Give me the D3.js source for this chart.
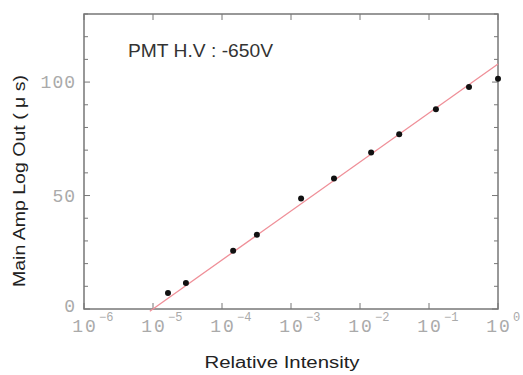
<!doctype html>
<html>
  <head>
    <meta charset="utf-8">
    <title>PMT log amp</title>
    <script src="https://d3js.org/d3.v7.min.js"></script>
    <style type="text/css">
      body { margin: 0; background-color: #ffffff }
      text { font-family: "Liberation Sans", Arial, sans-serif }
    </style>
  </head>
  <body>
    <script>
      // measured data
      var intensity = [1.65e-5, 3.0e-5, 1.45e-4, 3.2e-4, 1.4e-3, 4.2e-3, 1.45e-2, 3.7e-2, 0.126, 0.38, 1.0];
      var logOut = [7.1, 11.5, 25.7, 32.7, 48.7, 57.5, 69, 77, 88, 97.8, 101.5];

      // fitted line: logOut = fitIntercept + fitSlope * log10(intensity)
      var fitSlope = 21.6;
      var fitIntercept = 108;

      var xTickExps = [-6, -5, -4, -3, -2, -1, 0];
      var yTickLabels = [0, 50, 100];

      var w = 523, h = 375;
      var margin = {left: 84, right: 25, top: 14, bottom: 66};

      var svg = d3.select("body").append("svg")
        .attr("width", w).attr("height", h);

      var x = d3.scaleLog().domain([1e-6, 1]).range([margin.left, w - margin.right]);
      var y = d3.scaleLinear().domain([0, 130]).range([h - margin.bottom, margin.top]);

      var axisColor = "#777";
      var labelColor = "#aaa";
      var monoFont = "'Liberation Mono', monospace";

      // frame
      svg.append("rect")
        .attr("x", margin.left).attr("y", margin.top)
        .attr("width", w - margin.left - margin.right)
        .attr("height", h - margin.top - margin.bottom)
        .attr("fill", "none").attr("stroke", axisColor).attr("stroke-width", 1.5);

      var decades = xTickExps.map(function(e) { return Math.pow(10, e); });
      var yMinor = d3.range(0, 131, 10);

      // x ticks bottom and top (inward)
      var g = svg.append("g").attr("stroke", axisColor).attr("stroke-width", 1);
      decades.forEach(function(d) {
        g.append("line").attr("x1", x(d)).attr("x2", x(d))
          .attr("y1", y(0)).attr("y2", y(0) - 6);
        g.append("line").attr("x1", x(d)).attr("x2", x(d))
          .attr("y1", y(130)).attr("y2", y(130) + 6);
      });
      // y ticks left and right
      yMinor.forEach(function(v) {
        var len = (v % 50 === 0) ? 6 : 4;
        g.append("line").attr("x1", x(1e-6)).attr("x2", x(1e-6) + len)
          .attr("y1", y(v)).attr("y2", y(v));
        g.append("line").attr("x1", x(1)).attr("x2", x(1) - len)
          .attr("y1", y(v)).attr("y2", y(v));
      });

      // x tick labels: "10" centred on the tick, exponent to its right
      xTickExps.forEach(function(e) {
        var cx = x(Math.pow(10, e));
        svg.append("text")
          .attr("x", cx + 1).attr("y", y(0) + 23)
          .attr("text-anchor", "middle")
          .attr("fill", labelColor)
          .style("font-family", monoFont)
          .style("font-size", "18px")
          .style("letter-spacing", "2px")
          .text("10");
        svg.append("text")
          .attr("x", cx + 15).attr("y", y(0) + 12)
          .attr("fill", labelColor)
          .style("font-family", monoFont)
          .style("font-size", "12px")
          .text(e === 0 ? "0" : "\u2212" + (-e));
      });

      // y tick labels
      yTickLabels.forEach(function(v) {
        svg.append("text")
          .attr("x", x(1e-6) - 8)
          .attr("y", y(v) + (v === 0 ? 3 : 6))
          .attr("text-anchor", "end")
          .attr("fill", labelColor)
          .style("font-family", monoFont)
          .style("font-size", "18px")
          .style("letter-spacing", "1px")
          .text(v);
      });

      // fit line
      var xStart = Math.pow(10, (-1 - fitIntercept) / fitSlope);
      svg.append("path")
        .datum([xStart, 1])
        .attr("d", d3.line()
          .x(function(d) { return x(d); })
          .y(function(d) { return y(fitIntercept + fitSlope * Math.log10(d)); }))
        .attr("fill", "none").attr("stroke", "#ef8f98").attr("stroke-width", 1.3);

      // data points
      svg.append("g").selectAll("circle")
        .data(intensity)
        .enter().append("circle")
        .attr("cx", function(d) { return x(d); })
        .attr("cy", function(d, i) { return y(logOut[i]); })
        .attr("r", 3)
        .attr("fill", "#111");

      // annotation
      svg.append("text")
        .attr("x", 128).attr("y", 57)
        .attr("fill", "#333")
        .attr("textLength", 145).attr("lengthAdjust", "spacingAndGlyphs")
        .style("font-size", "18px")
        .text("PMT H.V : -650V");

      // axis titles
      svg.append("text")
        .attr("x", 282).attr("y", 368)
        .attr("text-anchor", "middle")
        .attr("fill", "#222")
        .attr("textLength", 155).attr("lengthAdjust", "spacingAndGlyphs")
        .style("font-size", "16px")
        .text("Relative Intensity");

      svg.append("text")
        .attr("transform", "translate(25,181) rotate(-90)")
        .attr("text-anchor", "middle")
        .attr("fill", "#222")
        .attr("textLength", 212).attr("lengthAdjust", "spacingAndGlyphs")
        .style("font-size", "16px")
        .text("Main Amp Log Out ( \u03bc s)");
    </script>
  </body>
</html>
